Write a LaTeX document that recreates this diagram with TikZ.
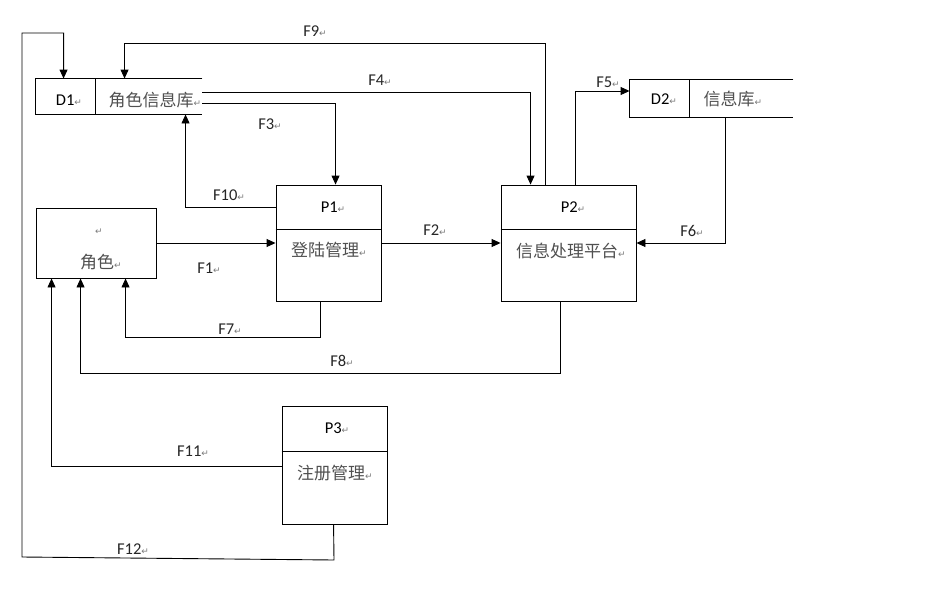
\documentclass[tikz,border=0pt]{standalone}
\usepackage{fontspec}
\setmainfont{Carlito}
\newfontfamily\cjk{Noto Sans CJK SC}
\newfontfamily\symf{DejaVu Sans}
\usetikzlibrary{arrows.meta,calc}
\definecolor{cjkgray}{HTML}{505050}
\definecolor{retgray}{HTML}{7a7a7a}
\newcommand\rt{{\symf\color{retgray}\fontsize{9}{9}\selectfont ↵}}
\begin{document}
\begin{tikzpicture}[x=1pt,y=-1pt,
  line width=0.9pt,
  box/.style={draw,inner sep=0pt},
  ghost/.style={inner sep=0pt},
  arr/.style={-{Triangle[length=9pt,width=8pt]}},
  lat/.style={inner sep=0pt,font=\fontsize{16.5}{16.5}\selectfont,text=black},
  zh/.style={inner sep=0pt,font=\cjk\fontsize{17}{17}\selectfont,text=cjkgray},
  flab/.style={inner sep=0pt,font=\fontsize{16.5}{16.5}\selectfont,text=black!85}]
\useasboundingbox (0,0) rectangle (930,600);
% boxes
\node[box,minimum width=120,minimum height=70] (role) at (96,243) {};
\node[box,minimum width=105,minimum height=116] (p1) at (328.5,243) {};
\node[box,minimum width=135,minimum height=116] (p2) at (568.5,243) {};
\node[box,minimum width=105,minimum height=118] (p3) at (334.5,465) {};
\node[ghost,minimum width=166,minimum height=35] (d1) at (119,96.5) {};
\node[ghost,minimum width=163,minimum height=37] (d2) at (711.5,98.5) {};
% dividers
\draw ($(p1.north west)+(0,45)$) -- ($(p1.north east)+(0,45)$);
\draw ($(p2.north west)+(0,45)$) -- ($(p2.north east)+(0,45)$);
\draw ($(p3.north west)+(0,46)$) -- ($(p3.north east)+(0,46)$);
% data stores
\draw (d1.north east) -- (d1.north west) -- (d1.south west) -- (d1.south east);
\draw ($(d1.north west)+(60,0)$) -- ($(d1.south west)+(60,0)$);
\draw (d2.north east) -- (d2.north west) -- (d2.south west) -- (d2.south east);
\draw ($(d2.north west)+(60,0)$) -- ($(d2.south west)+(60,0)$);
% texts
\node[lat] (td1) at (69,100) {D1\rt};
\node[zh] (zd1) at (155,100) {角色信息库\rt};
\node[lat] (td2) at (664,99) {D2\rt};
\node[zh] (zd2) at (733,99) {信息库\rt};
\node[lat] (trole) at (99,232) {\rt};
\node[zh] (zrole) at (101,262) {角色\rt};
\node[lat] (tp1) at (333,207) {P1\rt};
\node[zh] (zp1) at (329,250) {登陆管理\rt};
\node[lat] (tp2) at (573,207) {P2\rt};
\node[zh] (zp2) at (571,251) {信息处理平台\rt};
\node[lat] (tp3) at (337,428) {P3\rt};
\node[zh] (zp3) at (335,473) {注册管理\rt};
% connectors
\draw[arr] (role.east) -- (p1.west);
\draw[arr] (p1.east) -- (p2.west);
\draw[arr] ($(d1.east)+(0,6.5)$) -| ($(p1.north west)+(60,0)$);
\draw[arr] ($(d1.east)+(0,-4.5)$) -| ($(p2.north west)+(30,0)$);
\draw[arr] ($(p2.north west)+(75,0)$) |- ($(d2.west)+(0,-7.5)$);
\draw[arr] ($(d2.south west)+(96,0)$) |- (p2.east);
\draw[arr] ($(p1.south west)+(45,0)$) -- ++(0,36) -| ($(role.south west)+(90,0)$);
\draw[arr] ($(p2.south west)+(60,0)$) -- ++(0,72) -| ($(role.south west)+(45,0)$);
\draw[arr] ($(p2.north west)+(45,0)$) -- ++(0,-141) -| ($(d1.north west)+(89,0)$);
\draw[arr] ($(p1.north west)+(0,23)$) -| ($(d1.south west)+(150,0)$);
\draw[arr] ($(p3.north west)+(0,61)$) -| ($(role.south west)+(16,0)$);
\coordinate (c12a) at (334,560);
\coordinate (c12b) at (22,557);
\coordinate (c12c) at (22,33);
\draw[arr] ($(p3.south west)+(52,0)$) -- (c12a) -- (c12b) -- (c12c) -| ($(d1.north west)+(28,0)$);
% flow labels
\node[flab] (lf1) at (209,268) {F1\rt};
\node[flab] (lf2) at (435,230) {F2\rt};
\node[flab] (lf3) at (270,124) {F3\rt};
\node[flab] (lf4) at (380,80) {F4\rt};
\node[flab] (lf5) at (608,82) {F5\rt};
\node[flab] (lf6) at (692,231) {F6\rt};
\node[flab] (lf7) at (230,329) {F7\rt};
\node[flab] (lf8) at (342,361) {F8\rt};
\node[flab] (lf9) at (315,31) {F9\rt};
\node[flab] (lf10) at (229,195) {F10\rt};
\node[flab] (lf11) at (193,451) {F11\rt};
\node[flab] (lf12) at (133,549) {F12\rt};
\end{tikzpicture}
\end{document}
